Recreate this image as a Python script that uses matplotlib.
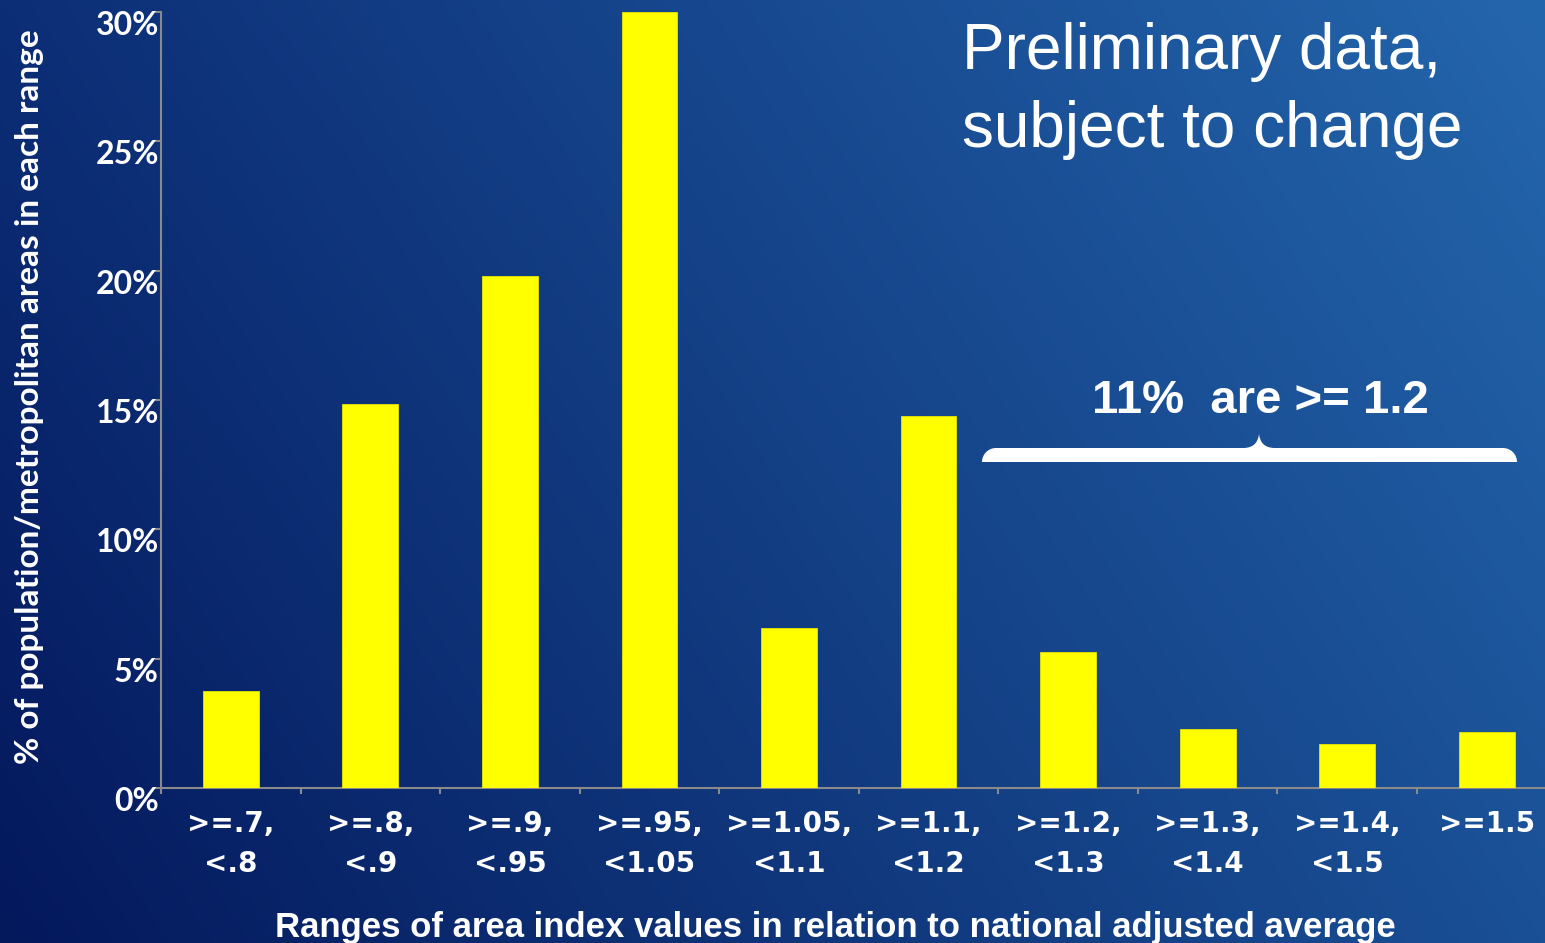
import numpy as np
import matplotlib
matplotlib.use("Agg")
import matplotlib.pyplot as plt
from matplotlib.path import Path
from matplotlib.patches import PathPatch
from matplotlib.transforms import ScaledTranslation, Affine2D
from matplotlib.ticker import FixedLocator, PercentFormatter

# ---------------- data ----------------
categories = [">=.7,\n<.8", ">=.8,\n<.9", ">=.9,\n<.95", ">=.95,\n<1.05", ">=1.05,\n<1.1",
              ">=1.1,\n<1.2", ">=1.2,\n<1.3", ">=1.3,\n<1.4", ">=1.4,\n<1.5", ">=1.5"]
values = [3.75, 14.85, 19.8, 30.0, 6.2, 14.4, 5.25, 2.3, 1.7, 2.15]
y_ticks = [0, 5, 10, 15, 20, 25, 30]
x_label = "Ranges of area index values in relation to national adjusted average"
y_label = "% of population/metropolitan areas in each range"
title_lines = ["Preliminary data,", "subject to change"]
brace_text = "11%  are >= 1.2"

W, H, DPI = 1545, 943, 100
fig = plt.figure(figsize=(W / DPI, H / DPI), dpi=DPI)

# ---------------- background gradient ----------------
bg = fig.add_axes([0, 0, 1, 1], zorder=-10)
tl = np.array([12, 46, 118]) / 255
tr = np.array([36, 102, 172]) / 255
bl = np.array([4, 24, 92]) / 255
br = np.array([26, 80, 150]) / 255
u = np.linspace(0, 1, 300)[None, :, None]
v = np.linspace(0, 1, 200)[:, None, None]  # 0 = top
img = (1 - v) * ((1 - u) * tl + u * tr) + v * ((1 - u) * bl + u * br)
bg.imshow(img, aspect="auto", extent=[0, 1, 0, 1], interpolation="bilinear")
bg.axis("off")

# ---------------- main axes ----------------
px = lambda p: p / W
py = lambda p: 1 - p / H
ax_left, ax_right, ax_top, ax_bottom = 161, 161 + 10 * 139.56, 12, 788
ax = fig.add_axes([px(ax_left), py(ax_bottom), (ax_right - ax_left) / W, (ax_bottom - ax_top) / H])
ax.set_facecolor("none")

x = np.arange(len(categories))
ax.bar(x, values, width=0.4, color="#ffff00", edgecolor="#e6e600", linewidth=0.6, zorder=3)
ax.set_xlim(-0.5, len(categories) - 0.5)
ax.set_ylim(0, 30)

spine_col = "#8a8a8a"
for s in ["top", "right"]:
    ax.spines[s].set_visible(False)
for s in ["left", "bottom"]:
    ax.spines[s].set_color(spine_col)
    ax.spines[s].set_linewidth(1.5)

# y ticks
ax.yaxis.set_major_locator(FixedLocator(y_ticks))
ax.yaxis.set_major_formatter(PercentFormatter(decimals=0))
ax.tick_params(axis="y", direction="out", length=4.5, width=1.5, color=spine_col,
               labelcolor="white", labelsize=23, pad=-3)
for lab in ax.get_yticklabels():
    lab.set_fontfamily(["Lato", "DejaVu Sans"])
    lab.set_fontweight("bold")
    lab.set_va("baseline")
    lab.set_transform(lab.get_transform() + ScaledTranslation(0, -23 / DPI, fig.dpi_scale_trans))

# x ticks: labels at centres, tick marks at boundaries
ax.set_xticks(x)
ax.set_xticklabels(categories)
ax.set_xticks(np.arange(-0.5, len(categories) + 0.5, 1), minor=True)
ax.tick_params(axis="x", which="major", length=0, labelcolor="white", labelsize=20, pad=0)
ax.tick_params(axis="x", which="minor", direction="out", length=4.5, width=1.5, color=spine_col)
for lab in ax.get_xticklabels():
    lab.set_fontfamily("DejaVu Sans")
    lab.set_fontweight("bold")
    lab.set_linespacing(1.55)
    lab.set_va("top")
    lab.set_transform(lab.get_transform() + ScaledTranslation(0, -22 / DPI, fig.dpi_scale_trans))

# axis labels
fig.text(px(835), py(937), x_label, color="white", fontsize=25, fontweight="bold",
         family="Liberation Sans", ha="center", va="baseline")
fig.text(px(30), py(397), y_label, color="white", fontsize=24, fontweight="bold",
         family=["Lato", "DejaVu Sans"], ha="center", va="center", rotation=90)

# title
fig.text(px(962), py(69), title_lines[0], color="white", fontsize=46,
         family="Liberation Sans", ha="left", va="baseline")
fig.text(px(962), py(147), title_lines[1], color="white", fontsize=46,
         family="Liberation Sans", ha="left", va="baseline")

# brace annotation text
fig.text(px(1260), py(413), brace_text, color="white", fontsize=34, fontweight="bold",
         family="Liberation Sans", ha="center", va="baseline")

# brace shape (pixel coordinates, y downward)
L, R, C = 982, 1517, 1259
top, bot, tip, r = 448, 462, 434, 14
k = 0.55
verts = [
    (L, bot),
    (L, bot - r * k), (L + r * (1 - k), top), (L + r, top),
    (C - 16, top),
    (C - 5, top), (C - 1, tip + 8), (C, tip),
    (C + 1, tip + 8), (C + 5, top), (C + 16, top),
    (R - r, top),
    (R - r * (1 - k), top), (R, bot - r * k), (R, bot),
    (L, bot),
    (L, bot),
]
codes = [Path.MOVETO,
         Path.CURVE4, Path.CURVE4, Path.CURVE4,
         Path.LINETO,
         Path.CURVE4, Path.CURVE4, Path.CURVE4,
         Path.CURVE4, Path.CURVE4, Path.CURVE4,
         Path.LINETO,
         Path.CURVE4, Path.CURVE4, Path.CURVE4,
         Path.LINETO,
         Path.CLOSEPOLY]
pix = Affine2D().scale(1, -1).translate(0, H)
brace = PathPatch(Path(verts, codes), facecolor="white", edgecolor="none",
                  transform=pix, zorder=5)
fig.add_artist(brace)

fig.savefig("out.png", dpi=DPI)
